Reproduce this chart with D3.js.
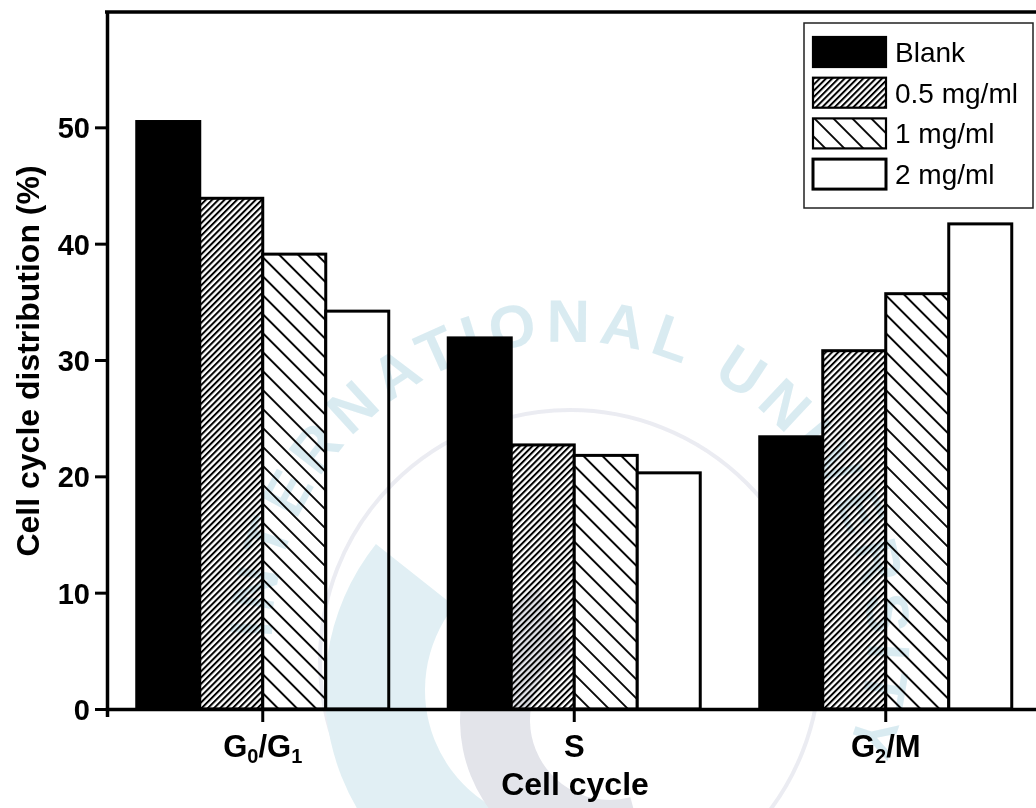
<!DOCTYPE html>
<html>
<head>
<meta charset="utf-8">
<script src="https://cdn.jsdelivr.net/npm/d3@7"></script>
<style>
  body { margin: 0; background: #fff; }
  svg { display: block; font-family: "Liberation Sans", Arial, Helvetica, sans-serif; }
</style>
</head>
<body>
<svg id="chart" width="1036" height="808"></svg>
<script>
const categories = ["G0/G1", "S", "G2/M"];
const series = ["Blank", "0.5 mg/ml", "1 mg/ml", "2 mg/ml"];
const blank = [50.5, 31.9, 23.4];
const dose05 = [43.9, 22.7, 30.8];
const dose1 = [39.1, 21.8, 35.7];
const dose2 = [34.2, 20.3, 41.7];
const yTicks = [0, 10, 20, 30, 40, 50];

const values = [blank, dose05, dose1, dose2];
const fills = ["#000", "url(#hatchFwd)", "url(#hatchBack)", "#fff"];

const svg = d3.select("#chart");
const defs = svg.append("defs");

// dense "/" hatching
defs.append("pattern")
  .attr("id", "hatchFwd")
  .attr("patternUnits", "userSpaceOnUse")
  .attr("width", 4.4).attr("height", 10)
  .attr("patternTransform", "rotate(45)")
  .call(p => {
    p.append("rect").attr("width", 4.4).attr("height", 10).attr("fill", "#fff");
    p.append("line").attr("x1", 1).attr("x2", 1).attr("y1", 0).attr("y2", 10)
      .attr("stroke", "#000").attr("stroke-width", 2);
  });

// wide "\" hatching
defs.append("pattern")
  .attr("id", "hatchBack")
  .attr("patternUnits", "userSpaceOnUse")
  .attr("width", 13.4).attr("height", 10)
  .attr("patternTransform", "rotate(-45)")
  .call(p => {
    p.append("rect").attr("width", 13.4).attr("height", 10).attr("fill", "#fff");
    p.append("line").attr("x1", 1).attr("x2", 1).attr("y1", 0).attr("y2", 10)
      .attr("stroke", "#000").attr("stroke-width", 1.9);
  });

const x = d3.scaleBand().domain(categories).range([107, 1041.5])
  .paddingInner(0.191).paddingOuter(0.0955);
const xs = d3.scaleBand().domain(series).range([0, x.bandwidth()]);
const y = d3.scaleLinear().domain([0, 60]).range([709, 11]);

// bars
const groups = svg.append("g").selectAll("g")
  .data(categories)
  .join("g")
  .attr("transform", d => `translate(${x(d)},0)`);

groups.selectAll("rect")
  .data((c, ci) => series.map((s, si) => ({ s, si, v: values[si][ci] })))
  .join("rect")
  .attr("x", d => xs(d.s))
  .attr("y", d => y(d.v))
  .attr("width", xs.bandwidth())
  .attr("height", d => y(0) - y(d.v))
  .attr("fill", d => fills[d.si])
  .attr("stroke", "#000")
  .attr("stroke-width", 3);

// faint watermark, multiplied over the plot
const wm = svg.append("g").style("mix-blend-mode", "multiply").attr("opacity", 0.85);
const cx = 570, cy = 640, r = 298;
wm.append("path")
  .attr("id", "wmArc")
  .attr("fill", "none")
  .attr("d", `M${cx},${cy + r} A${r},${r} 0 1,1 ${cx},${cy - r} A${r},${r} 0 1,1 ${cx},${cy + r}`);
wm.append("text")
  .attr("font-size", 60).attr("font-weight", "bold")
  .attr("letter-spacing", 8)
  .attr("fill", "#d3e8ef")
  .append("textPath")
  .attr("href", "#wmArc")
  .attr("startOffset", 470)
  .text("INTERNATIONAL UNIVERSITY");
wm.append("circle").attr("cx", cx).attr("cy", cy + 20).attr("r", 250)
  .attr("fill", "none").attr("stroke", "#e8e9f0").attr("stroke-width", 4);
const arc = d3.arc();
wm.append("path")
  .attr("transform", `translate(${cx - 10},${cy + 50})`)
  .attr("d", arc({ innerRadius: 135, outerRadius: 235, startAngle: -3.0, endAngle: -0.9 }))
  .attr("fill", "#dcedf2");
wm.append("path")
  .attr("transform", `translate(${cx + 40},${cy + 80})`)
  .attr("d", arc({ innerRadius: 80, outerRadius: 150, startAngle: -3.4, endAngle: -0.5 }))
  .attr("fill", "#dedfe7");

// axes
const yAxis = svg.append("g")
  .attr("transform", "translate(107,0)")
  .call(d3.axisLeft(y).tickValues(yTicks).tickSize(12).tickSizeOuter(0).tickPadding(5));
yAxis.select(".domain").attr("stroke-width", 3.5);
yAxis.selectAll(".tick line").attr("stroke-width", 3);
yAxis.selectAll(".tick text")
  .attr("font-size", 29).attr("font-weight", "bold").attr("font-family", null)
  .attr("fill", "#000").attr("dy", "0.36em");

const xAxis = svg.append("g")
  .attr("transform", "translate(0,709)")
  .call(d3.axisBottom(x).tickSize(13).tickSizeOuter(8).tickFormat(""));
xAxis.select(".domain").attr("stroke-width", 3.5);
xAxis.selectAll(".tick line").attr("stroke-width", 3);

// category labels with subscripts
const catLabels = svg.append("g").selectAll("text")
  .data(categories)
  .join("text")
  .attr("x", d => x(d) + x.bandwidth() / 2)
  .attr("y", 757)
  .attr("text-anchor", "middle")
  .attr("font-size", 31)
  .attr("font-weight", "bold");
catLabels.each(function (d) {
  const t = d3.select(this);
  let lastSub = false;
  d.split(/(\d)/).filter(s => s).forEach(part => {
    if (/^\d$/.test(part)) {
      t.append("tspan").attr("font-size", 20).attr("dy", 6).text(part);
      lastSub = true;
    } else {
      t.append("tspan").attr("dy", lastSub ? -6 : 0).text(part);
      lastSub = false;
    }
  });
});

// top frame line
svg.append("line")
  .attr("x1", 105).attr("x2", 1036).attr("y1", 12).attr("y2", 12)
  .attr("stroke", "#000").attr("stroke-width", 3.5);

// axis titles
svg.append("text")
  .attr("x", 575).attr("y", 795)
  .attr("text-anchor", "middle")
  .attr("font-size", 32).attr("font-weight", "bold")
  .text("Cell cycle");

svg.append("text")
  .attr("transform", "translate(39,361) rotate(-90)")
  .attr("text-anchor", "middle")
  .attr("font-size", 32).attr("font-weight", "bold")
  .text("Cell cycle distribution (%)");

// legend
const legend = svg.append("g");
legend.append("rect")
  .attr("x", 804).attr("y", 23).attr("width", 229).attr("height", 185)
  .attr("fill", "#fff").attr("stroke", "#222").attr("stroke-width", 1.5);
const items = legend.selectAll("g.item")
  .data(series)
  .join("g")
  .attr("class", "item")
  .attr("transform", (d, i) => `translate(813,${37 + i * 40.7})`);
items.append("rect")
  .attr("width", 73).attr("height", 30)
  .attr("fill", (d, i) => fills[i])
  .attr("stroke", "#000").attr("stroke-width", (d, i) => i === 3 ? 3 : 2.2);
items.append("text")
  .attr("x", 82).attr("y", 25)
  .attr("font-size", 28)
  .text(d => d);
</script>
</body>
</html>
